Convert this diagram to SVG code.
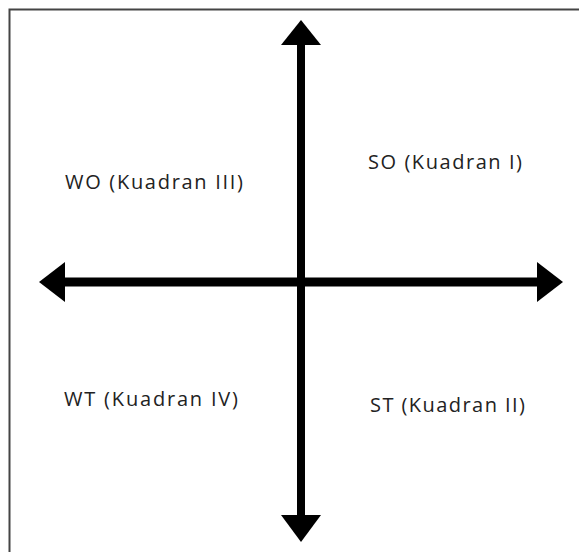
<svg xmlns="http://www.w3.org/2000/svg" width="579" height="552" viewBox="0 0 579 552">
  <style>
    .lbl { font-family: "Open Sans", "Liberation Sans", sans-serif; font-size: 20px; fill: #222; }
    .axis { fill: #000; }
  </style>
  <rect x="0" y="0" width="579" height="552" fill="#fff"/>
  <g id="frame">
    <path d="M9.5,600 V9.5 H600" fill="none" stroke="#444" stroke-width="2"/>
  </g>
  <g id="connectors">
    <rect class="axis" x="297" y="40" width="8" height="480"/>
    <polygon class="axis" points="301,20 321,45 281,45"/>
    <polygon class="axis" points="281,515 321,515 301,542"/>
    <rect class="axis" x="60" y="277.5" width="482" height="9"/>
    <polygon class="axis" points="39,282 65,262 65,302"/>
    <polygon class="axis" points="563,282 537,262 537,302"/>
  </g>
  <g id="q3"><text class="lbl" x="65" y="189" textLength="178" lengthAdjust="spacing">WO (Kuadran III)</text></g>
  <g id="q1"><text class="lbl" x="368" y="169" textLength="154" lengthAdjust="spacing">SO (Kuadran I)</text></g>
  <g id="q4"><text class="lbl" x="64" y="406" textLength="174" lengthAdjust="spacing">WT (Kuadran IV)</text></g>
  <g id="q2"><text class="lbl" x="370" y="412" textLength="155" lengthAdjust="spacing">ST (Kuadran II)</text></g>
</svg>
